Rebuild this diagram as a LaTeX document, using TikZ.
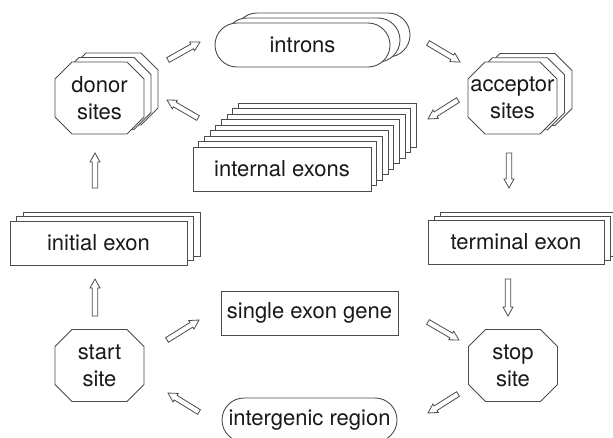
\documentclass[tikz,border=0pt]{standalone}
\usepackage{fontspec}
\setmainfont{TeX Gyre Heros}
\usetikzlibrary{shapes.misc,shadows,calc}
\definecolor{lc}{gray}{0.3}
\definecolor{tc}{gray}{0.1}
\pgfdeclarelayer{bg}
\pgfsetlayers{bg,main}
\tikzset{
  boxn/.style={draw=lc, line width=0.9pt, fill=white, text=tc, minimum height=44pt, inner sep=0pt},
  cp/.style 2 args={general shadow={shadow xshift=#1pt, shadow yshift=#2pt, draw=lc, line width=0.9pt, fill=white}},
  octtext/.style={text=tc, align=center, inner sep=0pt},
  octline/.style={draw=lc, line width=0.9pt, fill=white},
  blkarrow/.style={draw=lc, line width=0.8pt, fill=white, line join=miter},
}
\newcommand{\octo}[3]{%
  \draw[octline] ([shift={(#2pt,#3pt)}]#1.center) +(-27.5pt,36pt) -- +(27.5pt,36pt) -- +(44.5pt,19pt) -- +(44.5pt,-19pt) -- +(27.5pt,-36pt) -- +(-27.5pt,-36pt) -- +(-44.5pt,-19pt) -- +(-44.5pt,19pt) -- cycle;
}
\newcommand{\blockarrow}[2]{%
  \coordinate (#1-h) at ($(#2)!9pt!(#1)$);
  \draw[blkarrow] ($(#1)!2.7pt!90:(#2)$) -- ($(#1-h)!2.7pt!90:(#2)$) -- ($(#1-h)!5pt!90:(#2)$) -- (#2) -- ($(#1-h)!5pt!-90:(#2)$) -- ($(#1-h)!2.7pt!-90:(#2)$) -- ($(#1)!2.7pt!-90:(#2)$) -- cycle;
}
\begin{document}
\begin{tikzpicture}[x=1pt,y=-1pt,font=\fontsize{22}{27}\selectfont]
\useasboundingbox (0,0) rectangle (613,437);
\clip (0,0) rectangle (613,437);

% octagon text nodes
\node[octtext] (donor) at (99.5,98) {donor\\sites};
\node[octtext] (acceptor) at (512.5,98) {acceptor\\sites};
\node[octtext] (start) at (99.5,365.5) {start\\site};
\node[octtext] (stop) at (513,365.5) {stop\\site};

\begin{pgfonlayer}{bg}
  \octo{donor}{14}{9}
  \octo{donor}{7}{4.5}
  \octo{donor}{0}{0}
  \octo{acceptor}{15}{8.5}
  \octo{acceptor}{7.5}{4.3}
  \octo{acceptor}{0}{0}
  \octo{start}{0}{0}
  \octo{stop}{0}{0}
\end{pgfonlayer}

% boxes
\node[boxn, rounded rectangle, minimum width=175pt, cp={20}{10}, cp={10}{5}] (introns) at (302.5,45) {introns};
\node[boxn, minimum width=178pt,
  cp={45.6}{44}, cp={39.9}{38.5}, cp={34.2}{33}, cp={28.5}{27.5},
  cp={22.8}{22}, cp={17.1}{16.5}, cp={11.4}{11}, cp={5.7}{5.5}] (internal) at (282,169) {internal exons};
\node[boxn, minimum width=177pt, cp={13}{9}, cp={6.5}{4.5}] (initial) at (98.5,243) {initial exon};
\node[boxn, minimum width=176pt, cp={12}{8}, cp={6}{4}] (terminal) at (516,242) {terminal exon};
\node[boxn, minimum width=177pt] (single) at (309.5,313) {single exon gene};
\node[boxn, rounded rectangle, minimum width=175pt] (intergenic) at (309.5,420) {intergenic region};

% arrow end points
\coordinate (a1s) at (95,188);  \coordinate (a1e) at (95,153);
\coordinate (a2s) at (168,60);  \coordinate (a2e) at (200,42);
\coordinate (a3s) at (428,43);  \coordinate (a3e) at (460,62);
\coordinate (a4s) at (198,118); \coordinate (a4e) at (167,100);
\coordinate (a5s) at (458,100); \coordinate (a5e) at (428,119);
\coordinate (a6s) at (509,153); \coordinate (a6e) at (509,188);
\coordinate (a7s) at (508,279); \coordinate (a7e) at (508,316);
\coordinate (a8s) at (95,316);  \coordinate (a8e) at (95,279);
\coordinate (a9s) at (167,340); \coordinate (a9e) at (199,320);
\coordinate (a10s) at (428,322); \coordinate (a10e) at (459,340);
\coordinate (a11s) at (458,394); \coordinate (a11e) at (428,413);
\coordinate (a12s) at (199,412); \coordinate (a12e) at (168,393);

\blockarrow{a1s}{a1e}
\blockarrow{a2s}{a2e}
\blockarrow{a3s}{a3e}
\blockarrow{a4s}{a4e}
\blockarrow{a5s}{a5e}
\blockarrow{a6s}{a6e}
\blockarrow{a7s}{a7e}
\blockarrow{a8s}{a8e}
\blockarrow{a9s}{a9e}
\blockarrow{a10s}{a10e}
\blockarrow{a11s}{a11e}
\blockarrow{a12s}{a12e}
\end{tikzpicture}
\end{document}
